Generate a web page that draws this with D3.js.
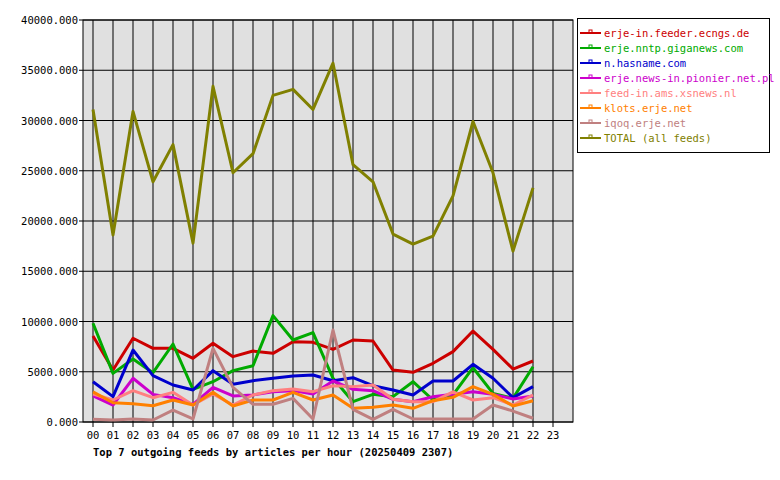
<!DOCTYPE html><html><head><meta charset="utf-8">
<script src="https://cdn.jsdelivr.net/npm/d3@7"></script>
<style>body{margin:0;background:#fff}text{font-family:"DejaVu Sans Mono",monospace;font-size:10.5px}</style></head><body>
<svg id="c" width="780" height="480"></svg>
<script>
const hours=["00","01","02","03","04","05","06","07","08","09","10","11","12","13","14","15","16","17","18","19","20","21","22","23"];
const yTicks=[0,5000,10000,15000,20000,25000,30000,35000,40000];
const names=["erje-in.feeder.ecngs.de","erje.nntp.giganews.com","n.hasname.com","erje.news-in.pionier.net.pl","feed-in.ams.xsnews.nl","klots.erje.net","iqoq.erje.net","TOTAL (all feeds)"];
const colors=["#cc0000","#00aa00","#0000cc","#cc00cc","#ff8080","#ff8000","#c08080","#808000"];
const red=[8560,5170,8330,7330,7330,6340,7830,6500,7060,6830,7990,7930,7230,8160,8060,5170,4940,5840,7000,9050,7230,5270,6070];
const green=[9820,4840,6270,4910,7760,3250,4010,5110,5600,10580,8160,8890,4350,2020,2750,2520,4010,2190,2690,5400,2850,2350,5500];
const blue=[4010,2520,7160,4610,3680,3180,5110,3750,4110,4350,4580,4680,4110,4410,3610,3180,2690,4080,4080,5740,4350,2420,3520];
const magenta=[2590,1690,4350,2750,2420,1760,3450,2590,2690,3020,3120,2790,4080,3250,3120,2260,2020,2520,2750,3000,2750,2290,2590];
const pink=[2790,2190,3120,2420,2950,1690,2790,1690,2690,3120,3280,3020,3610,3520,3680,2260,2020,2020,3000,2190,2420,1690,2690];
const orange=[3000,1920,1820,1620,2190,1690,2950,1590,2190,2190,2950,2190,2690,1360,1460,1690,1360,2120,2450,3520,2750,1590,2120];
const mauve=[270,200,300,200,1190,300,7330,3450,1760,1760,2350,300,9150,1260,270,1260,300,300,300,300,1690,1090,370];
const total=[31100,18600,30900,23900,27600,17800,33400,24800,26700,32500,33100,31100,35700,25600,23900,18700,17700,18500,22500,29900,24800,17000,23300];
const series=[red,green,blue,magenta,pink,orange,mauve,total];
const svg=d3.select("#c");
const L=83,R=573,T=20,B=422;
const x=d3.scaleLinear().domain([-0.5,24]).range([L,R]);
const y=d3.scaleLinear().domain([0,40000]).range([B,T]);
svg.append("rect").attr("x",L).attr("y",T).attr("width",R-L).attr("height",B-T).attr("fill","#e0e0e0");
const g=svg.append("g");
hours.forEach((h,i)=>g.append("line").attr("x1",x(i)).attr("x2",x(i)).attr("y1",T).attr("y2",B+5).attr("stroke","#000"));
yTicks.forEach(v=>g.append("line").attr("x1",L-4).attr("x2",R).attr("y1",y(v)).attr("y2",y(v)).attr("stroke","#000"));
svg.append("rect").attr("x",L).attr("y",T).attr("width",R-L).attr("height",B-T).attr("fill","none").attr("stroke","#000");
hours.forEach((h,i)=>svg.append("text").attr("x",x(i)).attr("y",B+17).attr("text-anchor","middle").text(h));
yTicks.forEach(v=>svg.append("text").attr("x",L-5).attr("y",y(v)+4).attr("text-anchor","end").text(v.toFixed(3)));
const line=d3.line().x((d,i)=>x(i)).y(d=>y(d));
series.forEach((s,k)=>svg.append("path").attr("d",line(s)).attr("fill","none").attr("stroke",colors[k]).attr("stroke-width",3).attr("stroke-linejoin","round"));
svg.append("text").attr("x",93).attr("y",456).attr("font-weight","bold").text("Top 7 outgoing feeds by articles per hour (20250409 2307)");
const lg=svg.append("g");
lg.append("rect").attr("x",577.5).attr("y",18.5).attr("width",192).attr("height",134).attr("fill","#fff").attr("stroke","#000");
names.forEach((n,k)=>{const yy=33+k*15;
lg.append("line").attr("x1",580).attr("x2",601).attr("y1",yy).attr("y2",yy).attr("stroke",colors[k]).attr("stroke-width",2);
lg.append("rect").attr("x",589).attr("y",yy-3).attr("width",3).attr("height",3).attr("fill","none").attr("stroke",colors[k]);
lg.append("text").attr("x",604).attr("y",yy+4).attr("fill",colors[k]).text(n);});
</script></body></html>
